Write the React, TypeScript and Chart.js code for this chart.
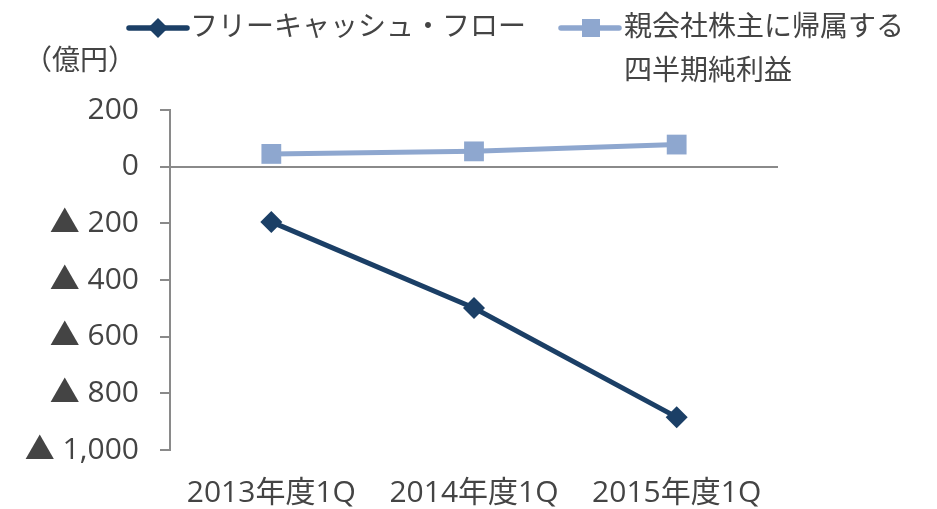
import React, { useEffect, useRef } from "react";
import { Chart, registerables } from "chart.js";

Chart.register(...registerables);

const categories = ["2013年度1Q", "2014年度1Q", "2015年度1Q"];
const freeCashFlow = [-195, -499, -884];
const netIncome = [45, 54, 78];
const seriesNames = ["フリーキャッシュ・フロー", "親会社株主に帰属する", "四半期純利益"];
const unitLabel = "（億円）";
const yMin = -1000;
const yMax = 200;
const yStep = 200;

const FCF_COLOR = "#1B3F66";
const NI_COLOR = "#8EA7CF";
const TEXT_COLOR = "#444444";
const AXIS_COLOR = "#8A8A8A";
const FONT_FAMILY = "'Open Sans', 'Noto Sans CJK JP', sans-serif";

function formatTick(v: number): string {
  if (v < 0) return "▲ " + Math.abs(v).toLocaleString("en-US");
  return v.toLocaleString("en-US");
}

const legendPlugin = {
  id: "customLegend",
  afterDraw(chart: any) {
    const ctx = chart.ctx as CanvasRenderingContext2D;
    ctx.save();
    ctx.font = "28px " + FONT_FAMILY;
    ctx.fillStyle = TEXT_COLOR;
    ctx.textBaseline = "middle";

    // unit label
    ctx.textAlign = "center";
    ctx.fillText(unitLabel, 80, 62);

    // item 1
    const y1 = 28;
    ctx.strokeStyle = FCF_COLOR;
    ctx.lineWidth = 5.5;
    ctx.lineCap = "round";
    ctx.beginPath();
    ctx.moveTo(129, y1);
    ctx.lineTo(187, y1);
    ctx.stroke();
    ctx.fillStyle = FCF_COLOR;
    ctx.beginPath();
    ctx.moveTo(158, y1 - 10);
    ctx.lineTo(168, y1);
    ctx.lineTo(158, y1 + 10);
    ctx.lineTo(148, y1);
    ctx.closePath();
    ctx.fill();
    ctx.fillStyle = TEXT_COLOR;
    ctx.textAlign = "left";
    ctx.fillText(seriesNames[0], 190, y1);

    // item 2
    ctx.strokeStyle = NI_COLOR;
    ctx.beginPath();
    ctx.moveTo(561, y1);
    ctx.lineTo(619, y1);
    ctx.stroke();
    ctx.fillStyle = NI_COLOR;
    ctx.fillRect(582, y1 - 9, 18, 18);
    ctx.fillStyle = TEXT_COLOR;
    ctx.fillText(seriesNames[1], 624, y1);
    ctx.fillText(seriesNames[2], 624, 72);
    ctx.restore();
  },
};

export default function App() {
  const ref = useRef<HTMLCanvasElement | null>(null);
  useEffect(() => {
    if (!ref.current) return;
    const chart = new Chart(ref.current, {
      type: "line",
      data: {
        labels: categories,
        datasets: [
          {
            label: seriesNames[0],
            data: freeCashFlow,
            borderColor: FCF_COLOR,
            backgroundColor: FCF_COLOR,
            borderWidth: 5,
            pointStyle: "rectRot",
            pointRadius: 11,
            pointBorderWidth: 0,
            tension: 0,
          },
          {
            label: seriesNames[1] + seriesNames[2],
            data: netIncome,
            borderColor: NI_COLOR,
            backgroundColor: NI_COLOR,
            borderWidth: 5,
            pointStyle: "rect",
            pointRadius: 14,
            pointBorderWidth: 0,
            tension: 0,
          },
        ],
      },
      options: {
        animation: false,
        responsive: false,
        maintainAspectRatio: false,
        layout: { padding: { top: 110, left: 0, right: 159, bottom: 0 } },
        plugins: {
          legend: { display: false },
          tooltip: { enabled: false },
        },
        scales: {
          x: {
            offset: true,
            grid: { display: false, drawTicks: false },
            border: { display: false },
            ticks: {
              color: TEXT_COLOR,
              font: { family: FONT_FAMILY, size: 30 },
              padding: 25,
              maxRotation: 0,
              autoSkip: false,
            },
            afterFit(scale: any) {
              scale.height = 59;
            },
          },
          y: {
            min: yMin,
            max: yMax,
            grid: {
              color: (c: any) => (c.tick && c.tick.value === 0 ? AXIS_COLOR : "rgba(0,0,0,0)"),
              lineWidth: 2,
              tickColor: AXIS_COLOR,
              tickLength: 10,
              drawTicks: true,
            },
            border: { display: true, color: AXIS_COLOR, width: 2 },
            ticks: {
              stepSize: yStep,
              color: TEXT_COLOR,
              font: { family: FONT_FAMILY, size: 30 },
              padding: 21,
              callback: (v: any) => formatTick(Number(v)),
            },
            afterFit(scale: any) {
              scale.width = 170;
            },
          },
        },
      },
      plugins: [legendPlugin],
    });
    return () => chart.destroy();
  }, []);
  return (
    <div style={{ position: "absolute", left: 0, top: 0, width: 937, height: 509, background: "#fff" }}>
      <canvas ref={ref} width={937} height={509} style={{ width: 937, height: 509, display: "block" }} />
    </div>
  );
}
